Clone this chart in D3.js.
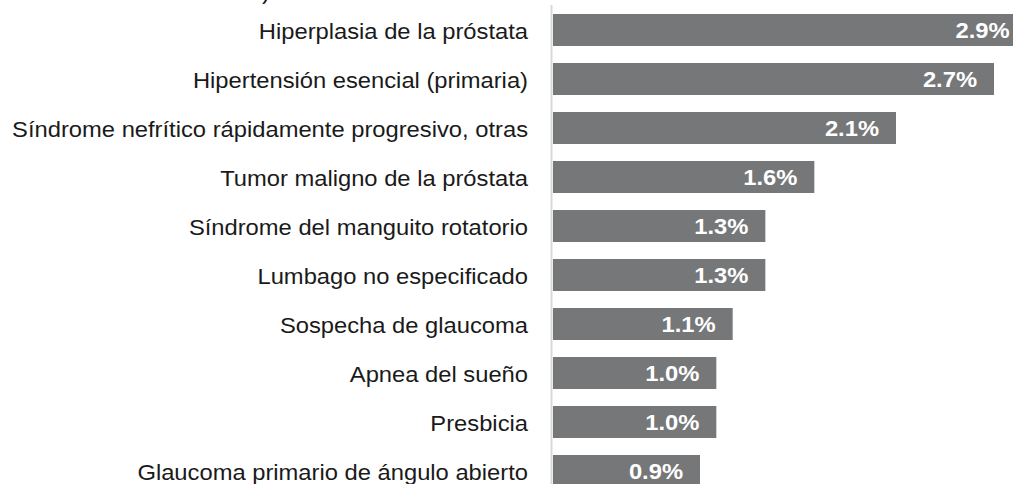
<!DOCTYPE html>
<html>
<head>
<meta charset="utf-8">
<script src="https://cdn.jsdelivr.net/npm/d3@7"></script>
<style>
  html, body { margin: 0; padding: 0; background: #fff; overflow: hidden; }
  svg { display: block; }
</style>
</head>
<body>
<div id="chart"></div>
<script>
// Data
const categories = [
  'Hiperplasia de la próstata',
  'Hipertensión esencial (primaria)',
  'Síndrome nefrítico rápidamente progresivo, otras',
  'Tumor maligno de la próstata',
  'Síndrome del manguito rotatorio',
  'Lumbago no especificado',
  'Sospecha de glaucoma',
  'Apnea del sueño',
  'Presbicia',
  'Glaucoma primario de ángulo abierto'
]
const values = [2.9, 2.7, 2.1, 1.6, 1.3, 1.3, 1.1, 1.0, 1.0, 0.9]
const valueLabels = ['2.9%', '2.7%', '2.1%', '1.6%', '1.3%', '1.3%', '1.1%', '1.0%', '1.0%', '0.9%']

;(({ width, height, barColor, axisLeft, stretch }) => {
  const data = categories.map((c, i) => ({ c, v: values[i], label: valueLabels[i] }))

  const svg = d3.select('#chart')
    .append('svg')
    .attr('width', width)
    .attr('height', height)
    .style('font-family', '"Liberation Sans", Arial, sans-serif')

  // Scales
  const x = d3.scaleLinear()
    .domain([0, 3])
    .range([axisLeft, axisLeft + 490])

  const y = d3.scaleBand()
    .domain(categories)
    .range([5.5, 495.5])
    .paddingInner(17 / 49)
    .paddingOuter(17 / 98)

  // cut-off text at the very top
  svg.append('text')
    .attr('transform', `translate(262,-1) scale(${stretch},1)`)
    .attr('font-size', 22)
    .attr('fill', '#1a1a1a')
    .text(')')

  // Bars
  svg.selectAll('rect.bar')
    .data(data)
    .enter()
    .append('rect')
    .attr('class', 'bar')
    .attr('x', x(0))
    .attr('y', d => y(d.c))
    .attr('width', d => x(d.v) - x(0))
    .attr('height', y.bandwidth())
    .attr('fill', barColor)

  // Value labels
  svg.selectAll('text.val')
    .data(data)
    .enter()
    .append('text')
    .attr('class', 'val')
    .attr('transform', d => `translate(${x(d.v) - 17},${y(d.c) + y.bandwidth() / 2}) scale(${stretch},1)`)
    .attr('dy', '0.35em')
    .attr('text-anchor', 'end')
    .attr('font-size', 22)
    .attr('font-weight', 'bold')
    .attr('fill', '#fff')
    .text(d => d.label)

  // Category axis
  const yAxis = d3.axisLeft(y).tickSize(0).tickPadding(0)
  const g = svg.append('g')
    .attr('transform', `translate(${axisLeft - 25},0)`)
    .call(yAxis)
  g.select('.domain').remove()
  g.selectAll('text')
    .attr('x', 0)
    .attr('transform', `scale(${stretch},1)`)
    .attr('font-size', 22)
    .attr('font-family', '"Liberation Sans", Arial, sans-serif')
    .attr('fill', '#1a1a1a')
    .attr('dy', '0.42em')

  svg.append('line')
    .attr('x1', axisLeft - 1.5)
    .attr('x2', axisLeft - 1.5)
    .attr('y1', 5)
    .attr('y2', height)
    .attr('stroke', '#d9d9d9')
    .attr('stroke-width', 2)
})({
  width: 1013,
  height: 484,
  barColor: '#767779',
  axisLeft: 553,
  stretch: 1.08
})
</script>
</body>
</html>
